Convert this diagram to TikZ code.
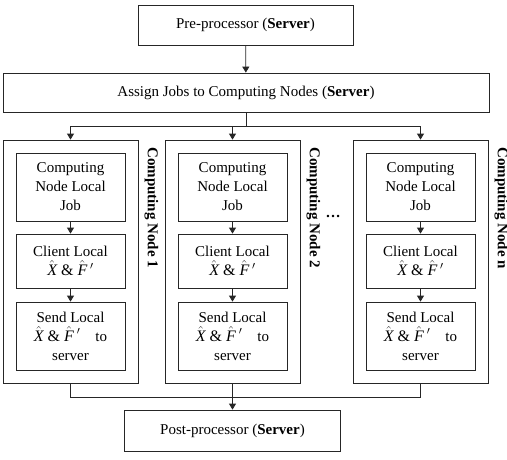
\documentclass[tikz,border=0pt]{standalone}
\usepackage{fontspec}
\setmainfont{Liberation Serif}
\usetikzlibrary{arrows.meta}
\newcommand{\xf}{{\fontsize{16}{19}\selectfont$\hat{\textit{X}}$ \& $\hat{\textit{F}}\,'$}}
\begin{document}
\begin{tikzpicture}[x=1pt,y=-1pt,
  box/.style={draw=black!85,line width=0.8pt,minimum width=#1,inner sep=0pt,align=center,font=\fontsize{15}{19}\selectfont},
  arr/.style={-{Triangle[length=6pt,width=7pt]}},
  ln/.style={draw=black!85,line width=0.8pt},
  lab/.style={rotate=-90,anchor=west,inner sep=0pt,font=\fontsize{15}{18}\selectfont\bfseries}]
\useasboundingbox (0,0) rectangle (507,459);
\node[box=215pt,minimum height=40pt] (pre) at (245.5,25) {Pre-processor (\textbf{Server})};
\node[box=486pt,minimum height=39pt] (assign) at (246,92.5) {Assign Jobs to Computing Nodes (\textbf{Server})};
\foreach \i/\dx in {1/0,2/162,n/350}{
  \node[box=135pt,minimum height=243pt] (out\i) at (70.5+\dx,261.5) {};
  \node[box=109pt,minimum height=68pt] (a\i) at (70.5+\dx,187) {Computing\\Node Local\\Job};
  \node[box=109pt,minimum height=54pt] (b\i) at (70.5+\dx,261) {Client Local\\\xf};
  \node[box=109pt,minimum height=68pt] (c\i) at (70.5+\dx,336) {Send Local\\\xf\quad to\\server};
  \draw[ln,arr] (a\i) -- (b\i);
  \draw[ln,arr] (b\i) -- (c\i);
  \node[lab] (l\i) at (151.5+\dx,147) {Computing Node \i};
}
\node[font=\fontsize{15}{18}\selectfont\bfseries] (dots) at (333,216) {\dots};
\node[box=216pt,minimum height=41pt] (post) at (232.5,430.5) {Post-processor (\textbf{Server})};
\coordinate (j) at (246,126);
\coordinate (k) at (232.5,397);
\draw[ln,arr] (pre) -- (assign);
\draw[ln] (assign.south) -- (j);
\draw[ln,arr] (j) -| (out1.north);
\draw[ln,arr] (j) -| (out2.north);
\draw[ln,arr] (j) -| (outn.north);
\draw[ln] (out1.south) |- (k);
\draw[ln] (outn.south) |- (k);
\draw[ln,arr] (out2.south) -- (post.north);
\end{tikzpicture}
\end{document}
